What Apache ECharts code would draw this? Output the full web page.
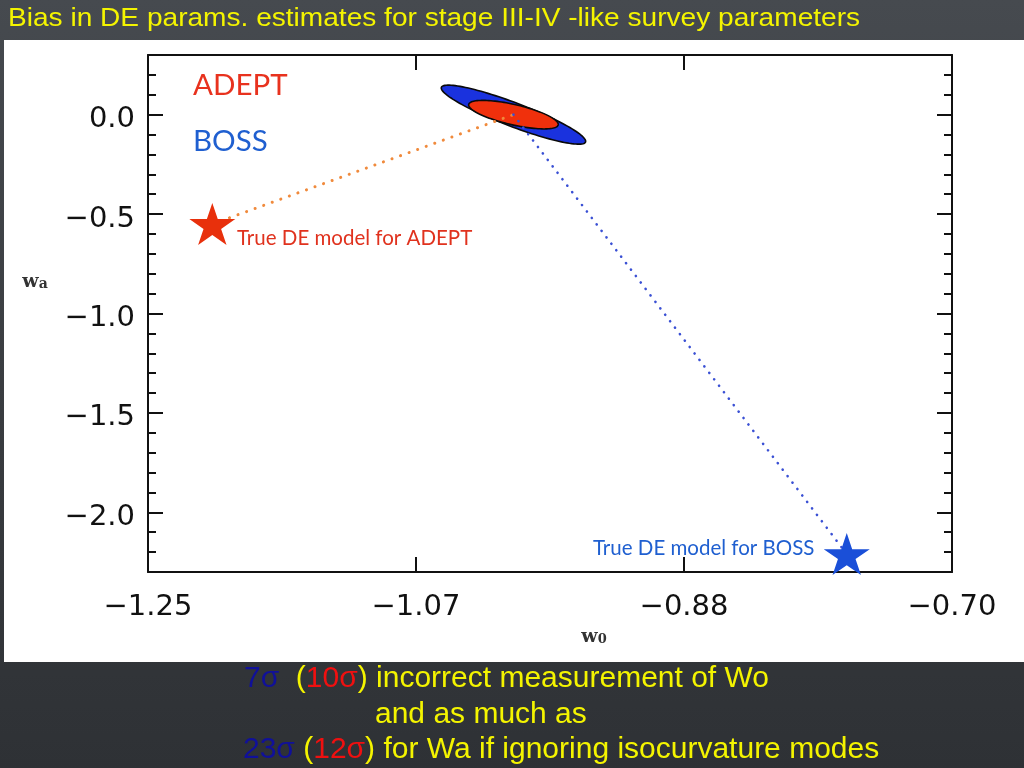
<!DOCTYPE html>
<html>
<head>
<meta charset="utf-8">
<script src="https://cdn.jsdelivr.net/npm/echarts@6/dist/echarts.min.js"></script>
<style>
html,body{margin:0;padding:0;width:1024px;height:768px;overflow:hidden;}
body{background:linear-gradient(180deg,#464a4f 0%,#3a3d41 50%,#2e3135 100%);}
#paper{position:absolute;left:4px;top:40px;width:1020px;height:622px;background:#fff;}
#chart{position:absolute;left:0;top:0;width:1024px;height:768px;}
</style>
</head>
<body>
<div id="paper"></div>
<div id="chart"></div>
<script>
// ---- data ----
const xTicks = [-1.25, -1.0667, -0.8833, -0.70];
const yTicks = [-2.0, -1.5, -1.0, -0.5, 0.0];
const yMinorTicks = [-2.2, -2.1, -1.9, -1.8, -1.7, -1.6, -1.4, -1.3, -1.2, -1.1,
                     -0.9, -0.8, -0.7, -0.6, -0.4, -0.3, -0.2, -0.1, 0.1, 0.2];
// fiducial-model confidence ellipses (BOSS, ADEPT)
const ellipseNames = ['BOSS', 'ADEPT'];
const ellipseCx = [-1.0, -1.0];
const ellipseCy = [0.0, 0.0];
const ellipseMajorDx = [0.0493, 0.0306];
const ellipseMajorDy = [-0.1375, -0.0515];
const ellipseMinorDx = [-0.0029, -0.0015];
const ellipseMinorDy = [-0.056, -0.05];
const ellipseColors = ['#1a32de', '#f0300c'];
// true DE models
const adeptTrue = [-1.206, -0.55];
const bossTrue = [-0.772, -2.21];
const fiducial = [-1.0, 0.0];

const starPath = 'path://M50,0L61.23,34.55L97.55,34.55L68.17,55.9L79.39,90.45L50,69.1L20.61,90.45L31.83,55.9L2.45,34.55L38.77,34.55Z';

const ellipseData = ellipseCx.map((c, i) => [c, ellipseCy[i], ellipseMajorDx[i], ellipseMajorDy[i], ellipseMinorDx[i], ellipseMinorDy[i]]);

function fmtX(v){ return '\u2212' + Math.abs(v).toFixed(2); }
function fmtY(v){ return '{t|' + (Math.abs(v) < 1e-9 ? '0.0' : '\u2212' + Math.abs(v).toFixed(1)) + '}'; }

const tickFont = {fontFamily: 'DejaVu Sans', fontSize: 29, color: '#111'};
const frameLine = {show: true, onZero: false, lineStyle: {color: '#111', width: 2}};

function xAx(pos, labels){
  return {
    type: 'value', position: pos, min: -1.25, max: -0.70,
    axisLine: frameLine, splitLine: {show: false},
    axisTick: {show: true, inside: true, length: 15, customValues: xTicks, lineStyle: {color: '#111', width: 2}},
    axisLabel: Object.assign({show: labels, customValues: xTicks, formatter: fmtX, margin: 21}, tickFont)
  };
}
function yAx(pos, vals, len, labels, line){
  return {
    type: 'value', position: pos, min: -2.3, max: 0.3,
    axisLine: line ? frameLine : {show: false, onZero: false}, splitLine: {show: false},
    axisTick: {show: true, inside: true, length: len, customValues: vals, lineStyle: {color: '#111', width: 2}},
    axisLabel: Object.assign({show: labels, customValues: vals, formatter: fmtY, margin: 13,
      rich: {t: {fontFamily: 'DejaVu Sans', fontSize: 29, color: '#111', padding: [10, 0, 0, 0]}}}, tickFont)
  };
}

const chart = echarts.init(document.getElementById('chart'), null, {renderer: 'canvas'});
chart.setOption({
  backgroundColor: 'transparent',
  animation: false,
  grid: {left: 148, right: 72, top: 55, bottom: 196, containLabel: false},
  xAxis: [xAx('bottom', true), xAx('top', false)],
  yAxis: [
    yAx('left', yTicks, 15, true, true),
    yAx('left', yMinorTicks, 8, false, false),
    yAx('right', yTicks, 15, false, true),
    yAx('right', yMinorTicks, 8, false, false)
  ],
  series: [
    {
      type: 'custom', xAxisIndex: 0, yAxisIndex: 0, z: 2,
      data: ellipseData,
      encode: {x: 0, y: 1},
      renderItem: function(params, api){
        const cx = api.value(0), cy = api.value(1);
        const ax = api.value(2), ay = api.value(3), bx = api.value(4), by = api.value(5);
        const pts = [];
        for (let k = 0; k < 120; k++){
          const t = 2 * Math.PI * k / 120;
          pts.push(api.coord([cx + ax * Math.cos(t) + bx * Math.sin(t), cy + ay * Math.cos(t) + by * Math.sin(t)]));
        }
        return {type: 'polygon', shape: {points: pts},
          style: {fill: ellipseColors[params.dataIndex], stroke: '#0a0a0a', lineWidth: 1.6}};
      }
    },
    {
      type: 'line', xAxisIndex: 0, yAxisIndex: 0, z: 3, symbol: 'none',
      data: [adeptTrue, fiducial],
      lineStyle: {color: '#f08a3c', width: 3, type: [0.1, 9], cap: 'round'}
    },
    {
      type: 'line', xAxisIndex: 0, yAxisIndex: 0, z: 3, symbol: 'none',
      data: [fiducial, bossTrue],
      lineStyle: {color: '#3a50d4', width: 2.6, type: [0.1, 8], cap: 'round'}
    },
    {
      type: 'scatter', xAxisIndex: 0, yAxisIndex: 0, z: 4,
      symbol: starPath, symbolSize: [46, 42],
      itemStyle: {color: '#e8300c', opacity: 1},
      data: [adeptTrue]
    },
    {
      type: 'scatter', xAxisIndex: 0, yAxisIndex: 0, z: 4,
      symbol: starPath, symbolSize: [46, 42],
      itemStyle: {color: '#1a4fd8', opacity: 1},
      data: [bossTrue]
    }
  ],
  graphic: [
    {type: 'text', x: 8, y: 19, scaleX: 1.08, style: {text: 'Bias in DE params. estimates for stage III-IV -like survey parameters',
      fill: '#f4f400', font: '26px "Liberation Sans", Arial, sans-serif', textVerticalAlign: 'middle'}},
    {type: 'text', x: 193, y: 85, style: {text: 'ADEPT', fill: '#e8321e', font: '29.5px Lato, sans-serif', textVerticalAlign: 'middle'}},
    {type: 'text', x: 193, y: 141, style: {text: 'BOSS', fill: '#1f5fd0', font: '29.5px Lato, sans-serif', textVerticalAlign: 'middle'}},
    {type: 'text', x: 237, y: 238, style: {text: 'True DE model for ADEPT', fill: '#e0321e', font: '20.5px Lato, sans-serif', textVerticalAlign: 'middle'}},
    {type: 'text', x: 593, y: 548, style: {text: 'True DE model for BOSS', fill: '#1f5fd0', font: '20.5px Lato, sans-serif', textVerticalAlign: 'middle'}},
    {type: 'text', x: 35, y: 282, style: {
      text: '{w|w}{s|a}', textAlign: 'center', textVerticalAlign: 'middle',
      rich: {w: {font: 'bold 19px "DejaVu Serif", serif', fill: '#333'}, s: {font: 'bold 14px "DejaVu Serif", serif', fill: '#333', padding: [4, 0, 0, 0]}}}},
    {type: 'text', x: 594, y: 637, style: {
      text: '{w|w}{s|0}', textAlign: 'center', textVerticalAlign: 'middle',
      rich: {w: {font: 'bold 19px "DejaVu Serif", serif', fill: '#333'}, s: {font: 'bold 13px "DejaVu Serif", serif', fill: '#333', padding: [5, 0, 0, 0]}}}},
    {type: 'text', x: 244, y: 679, style: {
      text: '{b|7σ}{y|  (}{r|10σ}{y|) incorrect measurement of Wo}', textVerticalAlign: 'middle',
      rich: {b: {fill: '#10109a', font: '30px "Liberation Sans", Arial'}, y: {fill: '#f4f400', font: '30px "Liberation Sans", Arial'}, r: {fill: '#f01010', font: '30px "Liberation Sans", Arial'}}}},
    {type: 'text', x: 375, y: 715, style: {
      text: 'and as much as', textVerticalAlign: 'middle', fill: '#f4f400', font: '30px "Liberation Sans", Arial'}},
    {type: 'text', x: 243, y: 750, style: {
      text: '{b|23σ}{y| (}{r|12σ}{y|) for Wa if ignoring isocurvature modes}', textVerticalAlign: 'middle',
      rich: {b: {fill: '#10109a', font: '30px "Liberation Sans", Arial'}, y: {fill: '#f4f400', font: '30px "Liberation Sans", Arial'}, r: {fill: '#f01010', font: '30px "Liberation Sans", Arial'}}}}
  ]
});
</script>
</body>
</html>
